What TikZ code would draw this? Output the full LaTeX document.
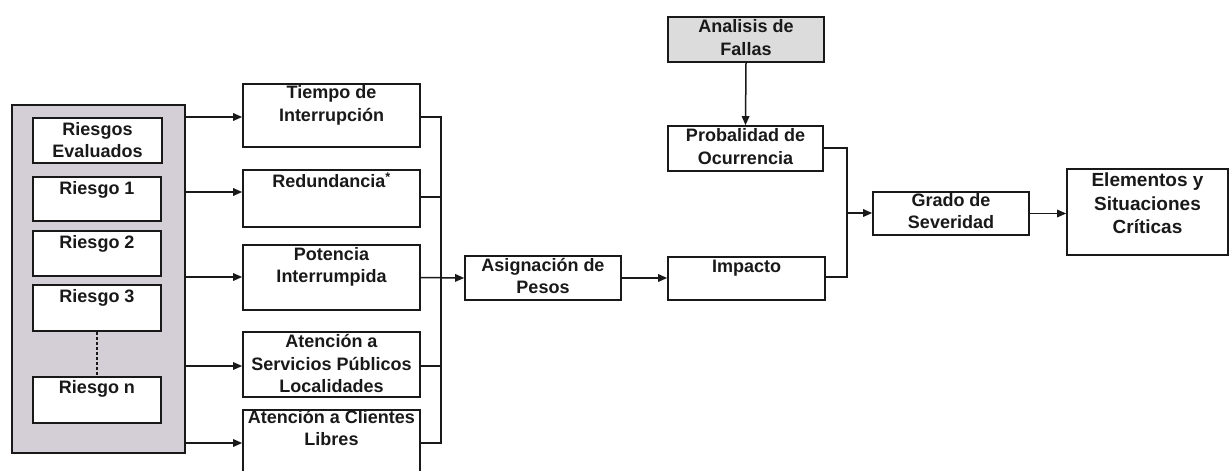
\documentclass[tikz,border=0pt]{standalone}
\usepackage{fontspec}
\setmainfont{Liberation Sans}
\usetikzlibrary{arrows.meta}
\definecolor{grisg}{RGB}{212,206,214}
\definecolor{grisf}{RGB}{220,220,220}
\definecolor{tinta}{RGB}{25,25,25}
\tikzset{
  caja/.style={draw=tinta,line width=1.6pt,fill=white,inner sep=0pt},
  txt/.style={font=\bfseries\fontsize{18}{22.5}\selectfont,align=center,inner sep=0pt,
    anchor=north,text=tinta,execute at begin node=\strut},
  lin/.style={draw=tinta,line width=1.5pt},
  fl/.style={lin,-{Triangle[length=9pt,width=7.5pt]}}
}
\begin{document}
\begin{tikzpicture}[x=1pt,y=-1pt]
\useasboundingbox (0,0) rectangle (1232,471);
% cajas: nombre/x1/y1/x2/y2/relleno/bajada/texto
\foreach \n/\xa/\ya/\xb/\yb/\f/\o/\t in {
  grp/12/105/185/453/grisg/16/{},
  ev/33/118/162/163/white/20.5/{Riesgos\\Evaluados},
  r1/33/177/161/221/white/18/{Riesgo 1},
  r2/33/231/161/276/white/18/{Riesgo 2},
  r3/33/285/161/331/white/18/{Riesgo 3},
  rn/33/377/161/423/white/17/{Riesgo n},
  tiem/243/84/420/147/white/18/{Tiempo de\\Interrupción},
  red/243/170/420/227/white/18/{Redundancia\textsuperscript{*}},
  pot/243/245/420/310/white/18.5/{Potencia\\Interrumpida},
  serv/243/332/420/397/white/19/{Atención a\\Servicios Públicos\\Localidades},
  cli/243/410/420/495/white/16.5/{Atención a Clientes\\Libres},
  asig/465/256/621/300/white/18.5/{Asignación de\\Pesos},
  ana/668/17/824/62/grisf/19/{Analisis de\\Fallas},
  prob/668/126/823/171/white/19/{Probalidad de\\Ocurrencia},
  imp/668/257/825/300/white/16.5/{Impacto},
  grad/873/192/1029/235/white/17.5/{Grado de\\Severidad}%
}{
  \node[caja,fill=\f,minimum width={(\xb-\xa)*1pt},minimum height={(\yb-\ya)*1pt}]
    (\n) at ({(\xa+\xb)/2},{(\ya+\yb)/2}) {};
  \node[txt] (\n-t) at ([yshift={-(\o-15.75)*1pt}]\n.north) {\t};
}
\node[caja,minimum width=161pt,minimum height=86pt] (elem) at (1147.5,212) {};
\node[txt,font=\bfseries\fontsize{19}{23.5}\selectfont] (elem-t) at ([yshift=-4.5pt]elem.north)
  {Elementos y\\Situaciones\\Críticas};
\draw[lin,line width=1.2pt,dash pattern=on 3pt off 2pt] (r3.south) -- (rn.north);
% salidas del grupo
\foreach \n/\y in {tiem/117,red/192,pot/277,serv/366,cli/443}
  \draw[fl] (grp.east |- 0,\y) -- (\n.west |- 0,\y);
% colector
\coordinate (bus) at (441,443);
\draw[lin] (tiem.east |- 0,117) -| (bus) -- (cli.east |- 0,443);
\foreach \n/\y in {red/197,serv/366}
  \draw[lin] (\n.east |- 0,\y) -- (bus |- 0,\y);
\draw[fl] (pot.east) -- (asig.west);
\draw[fl] (asig.east) -- (imp.west |- asig.east);
\draw[fl] (ana.south) -- (prob.north);
\coordinate (jun) at (847,213);
\draw[lin] (prob.east |- 0,148) -| (jun |- 0,277) -- (imp.east |- 0,277);
\draw[fl] (jun) -- (grad.west |- jun);
\draw[fl] (grad.east) -- (elem.west |- grad.east);
\end{tikzpicture}
\end{document}
